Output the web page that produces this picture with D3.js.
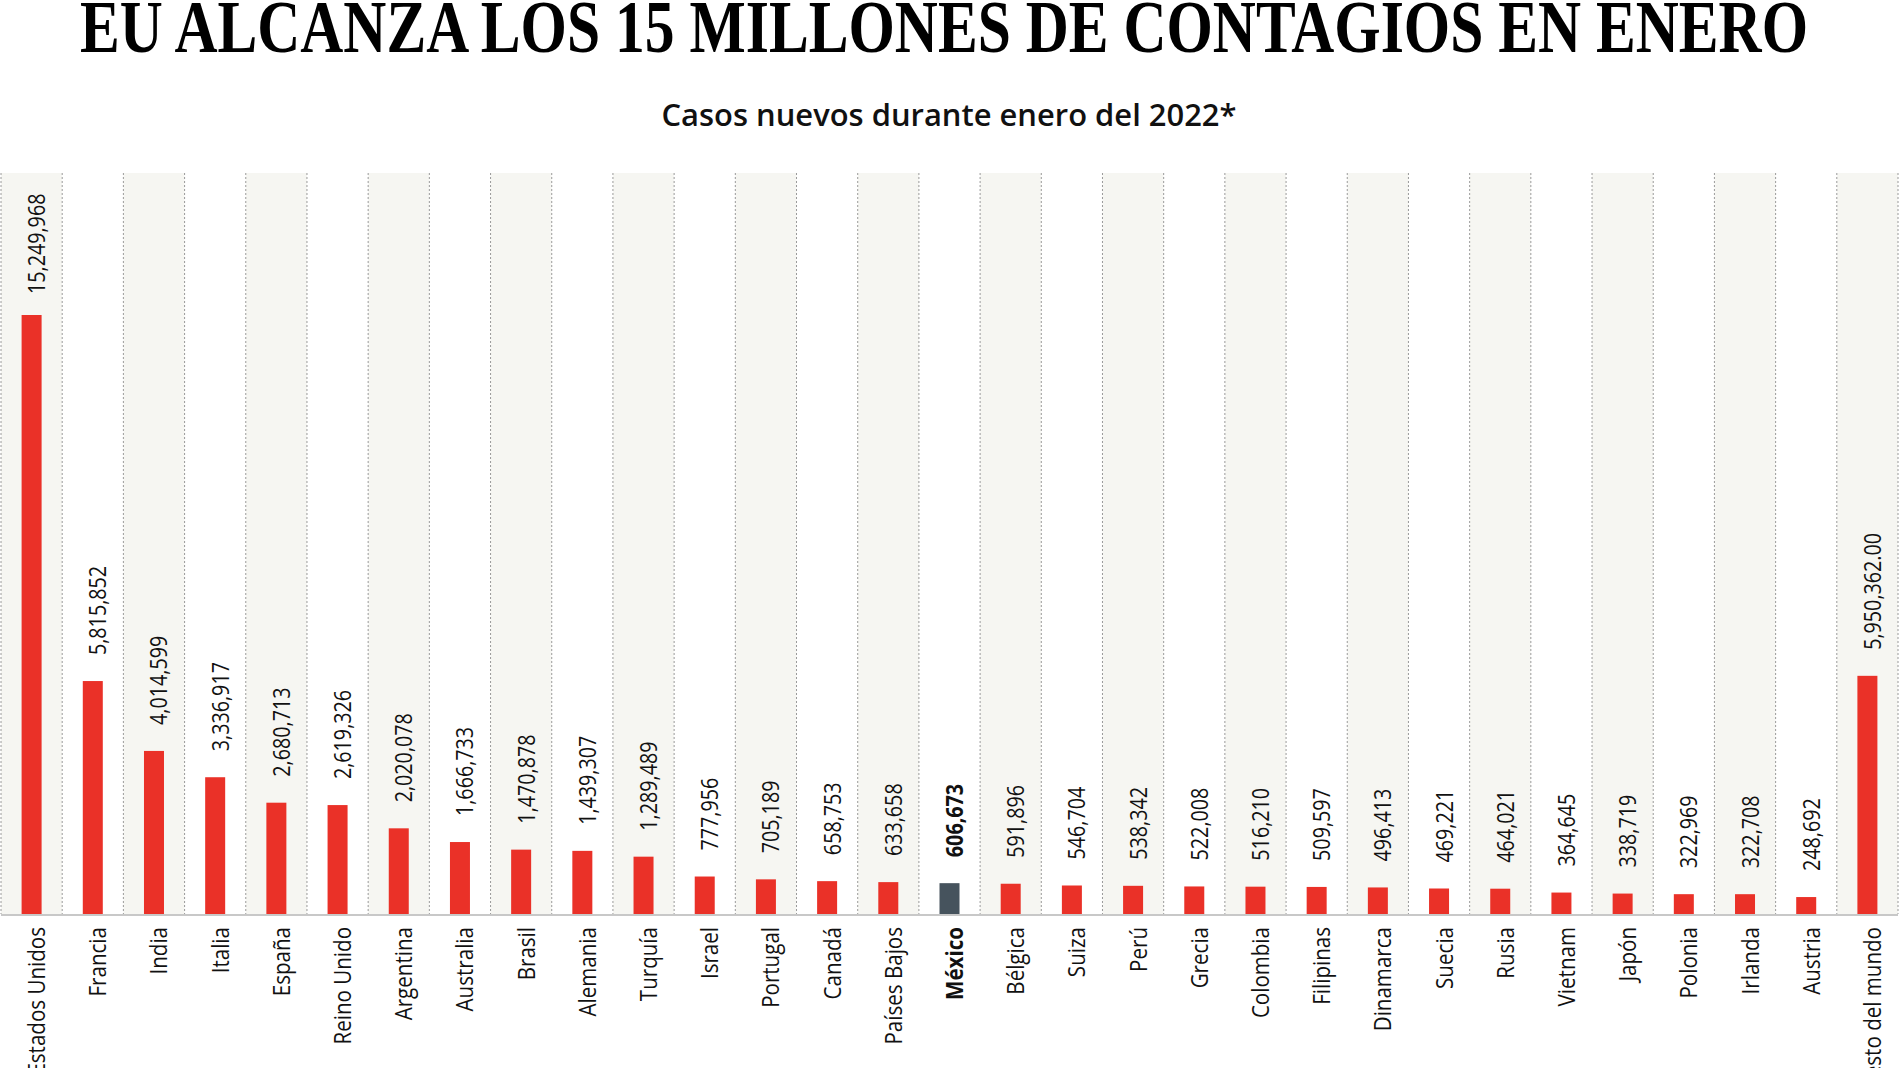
<!DOCTYPE html>
<html>
<head>
<meta charset="utf-8">
<script src="https://cdn.jsdelivr.net/npm/d3@7"></script>
<style>
  html, body { margin: 0; padding: 0; background: #ffffff; overflow: hidden; }
  svg { display: block; }
</style>
</head>
<body>
<svg id="chart" width="1900" height="1068"></svg>
<script>
const title = "EU ALCANZA LOS 15 MILLONES DE CONTAGIOS EN ENERO";
const subtitle = "Casos nuevos durante enero del 2022*";

const categories = ["Estados Unidos","Francia","India","Italia","España","Reino Unido","Argentina","Australia","Brasil","Alemania","Turquía","Israel","Portugal","Canadá","Países Bajos","México","Bélgica","Suiza","Perú","Grecia","Colombia","Filipinas","Dinamarca","Suecia","Rusia","Vietnam","Japón","Polonia","Irlanda","Austria","Resto del mundo"];

const values = [15249968,5815852,4014599,3336917,2680713,2619326,2020078,1666733,1470878,1439307,1289489,777956,705189,658753,633658,606673,591896,546704,538342,522008,516210,509597,496413,469221,464021,364645,338719,322969,322708,248692,5950362];

const valueLabels = ["15,249,968","5,815,852","4,014,599","3,336,917","2,680,713","2,619,326","2,020,078","1,666,733","1,470,878","1,439,307","1,289,489","777,956","705,189","658,753","633,658","606,673","591,896","546,704","538,342","522,008","516,210","509,597","496,413","469,221","464,021","364,645","338,719","322,969","322,708","248,692","5,950,362.00"];

const highlight = "México";

const data = categories.map((c, i) => ({ cat: c, value: values[i], label: valueLabels[i], idx: i }));

const svg = d3.select("#chart");

// layout
const plotTop = 173, baseY = 914;
const x = d3.scaleBand().domain(categories).range([1, 1898]).padding(0);
const y = d3.scaleLinear().domain([-188000, d3.max(values)]).range([baseY, 315]);
const barW = 20;
const labelFont = "'Open Sans', 'Noto Sans', sans-serif";
const squeezeVal = 0.84;
const squeezeCat = 0.875;

// title
svg.append("text")
  .attr("x", 80).attr("y", 52)
  .attr("textLength", 1728).attr("lengthAdjust", "spacingAndGlyphs")
  .style("font-family", "'Liberation Serif', 'DejaVu Serif', serif")
  .style("font-weight", 700).style("font-size", "73px").attr("fill", "#000")
  .text(title);

svg.append("text")
  .attr("x", 949).attr("y", 126).attr("text-anchor", "middle")
  .attr("textLength", 575).attr("lengthAdjust", "spacingAndGlyphs")
  .style("font-family", labelFont).style("font-weight", 600).style("font-size", "31.5px")
  .attr("fill", "#111")
  .text(subtitle);

// alternating band backgrounds
svg.append("g").selectAll("rect").data(data.filter(d => d.idx % 2 === 0)).join("rect")
  .attr("x", d => x(d.cat)).attr("y", plotTop)
  .attr("width", x.bandwidth()).attr("height", baseY - plotTop)
  .attr("fill", "#f6f6f2");

// dashed separators
const edges = categories.map(c => x(c)).concat([x.range()[1]]);
svg.append("g").selectAll("line").data(edges).join("line")
  .attr("x1", d => d).attr("x2", d => d)
  .attr("y1", plotTop).attr("y2", baseY)
  .attr("stroke", "#9a9a9a").attr("stroke-width", 1).attr("stroke-dasharray", "2,2");

// bars
svg.append("g").selectAll("rect").data(data).join("rect")
  .attr("x", d => x(d.cat) + x.bandwidth() / 2 - barW / 2)
  .attr("y", d => y(d.value))
  .attr("width", barW)
  .attr("height", d => baseY - y(d.value))
  .attr("fill", d => d.cat === highlight ? "#46535d" : "#ea3128");

// baseline
svg.append("line")
  .attr("x1", x.range()[0]).attr("x2", x.range()[1])
  .attr("y1", baseY + 1).attr("y2", baseY + 1)
  .attr("stroke", "#c8c8c8").attr("stroke-width", 2);

// value labels
svg.append("g").selectAll("text").data(data).join("text")
  .attr("transform", d => `translate(${x(d.cat) + x.bandwidth() / 2 + 13.5},${y(d.value) - (d.idx === 0 ? 21 : 26)}) rotate(-90) scale(${squeezeVal},1)`)
  .attr("text-anchor", "start")
  .style("font-family", labelFont).style("font-size", "23.5px")
  .style("font-weight", d => d.cat === highlight ? 700 : 400)
  .attr("fill", "#111")
  .text(d => d.label);

// category labels
svg.append("g").selectAll("text").data(data).join("text")
  .attr("transform", d => `translate(${x(d.cat) + x.bandwidth() / 2 + 13.5},927) rotate(-90) scale(${squeezeCat},1)`)
  .attr("text-anchor", "end")
  .style("font-family", labelFont).style("font-size", "23.5px")
  .style("font-weight", d => d.cat === highlight ? 700 : 400)
  .attr("fill", "#111")
  .text(d => d.cat);
</script>
</body>
</html>
